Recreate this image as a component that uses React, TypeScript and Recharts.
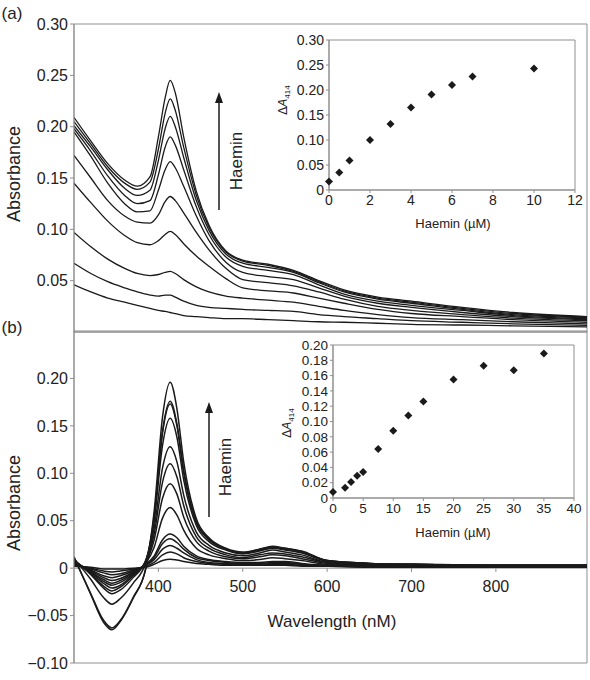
import React from 'react'
import {
  LineChart, Line, XAxis, YAxis, ReferenceArea, ReferenceLine, ReferenceDot,
  ScatterChart, Scatter,
} from 'recharts'

// (a) absorption spectra, wavelength (nm) and absorbance for each haemin addition
const WL_A = [300, 320, 340, 360, 375, 390, 400, 408, 414, 420, 430, 445, 460, 480, 500, 530, 560, 590, 620, 660, 700, 760, 820, 908]
const A1 = [0.046, 0.039, 0.033, 0.029, 0.026, 0.023, 0.021, 0.020, 0.019, 0.018, 0.016, 0.015, 0.014, 0.013, 0.013, 0.012, 0.011, 0.010, 0.0095, 0.0085, 0.0075, 0.0068, 0.006, 0.005]
const A2 = [0.067, 0.057, 0.049, 0.043, 0.039, 0.036, 0.035, 0.036, 0.036, 0.034, 0.030, 0.026, 0.024, 0.023, 0.022, 0.021, 0.020, 0.017, 0.015, 0.013, 0.011, 0.0095, 0.008, 0.0065]
const A3 = [0.097, 0.083, 0.071, 0.062, 0.057, 0.055, 0.056, 0.058, 0.059, 0.057, 0.051, 0.044, 0.039, 0.035, 0.033, 0.031, 0.029, 0.025, 0.021, 0.017, 0.014, 0.012, 0.010, 0.008]
const A4 = [0.145, 0.126, 0.108, 0.094, 0.087, 0.085, 0.089, 0.095, 0.098, 0.095, 0.086, 0.074, 0.064, 0.052, 0.043, 0.040, 0.038, 0.033, 0.028, 0.022, 0.018, 0.015, 0.012, 0.0095]
const A5 = [0.172, 0.150, 0.128, 0.113, 0.107, 0.106, 0.114, 0.127, 0.132, 0.128, 0.116, 0.097, 0.080, 0.062, 0.051, 0.048, 0.045, 0.039, 0.032, 0.025, 0.021, 0.017, 0.0135, 0.011]
const A6 = [0.195, 0.171, 0.145, 0.125, 0.117, 0.118, 0.138, 0.158, 0.166, 0.160, 0.142, 0.113, 0.089, 0.068, 0.058, 0.054, 0.051, 0.043, 0.035, 0.028, 0.024, 0.019, 0.015, 0.012]
const A7 = [0.198, 0.176, 0.152, 0.133, 0.125, 0.128, 0.153, 0.180, 0.190, 0.182, 0.158, 0.122, 0.095, 0.073, 0.064, 0.060, 0.056, 0.046, 0.037, 0.030, 0.026, 0.021, 0.016, 0.013]
const A8 = [0.201, 0.180, 0.158, 0.140, 0.133, 0.138, 0.167, 0.198, 0.210, 0.200, 0.170, 0.128, 0.099, 0.076, 0.067, 0.063, 0.058, 0.048, 0.039, 0.032, 0.028, 0.022, 0.017, 0.014]
const A9 = [0.205, 0.183, 0.161, 0.145, 0.139, 0.146, 0.178, 0.213, 0.227, 0.216, 0.180, 0.133, 0.102, 0.078, 0.069, 0.065, 0.059, 0.049, 0.040, 0.033, 0.029, 0.023, 0.018, 0.0145]
const A10 = [0.209, 0.186, 0.164, 0.148, 0.142, 0.151, 0.190, 0.228, 0.245, 0.233, 0.190, 0.137, 0.104, 0.079, 0.070, 0.066, 0.060, 0.050, 0.041, 0.034, 0.030, 0.024, 0.019, 0.015]
const SPECTRA_A = [A1, A2, A3, A4, A5, A6, A7, A8, A9, A10]

// (b) difference spectra
const WL_B = [300, 320, 335, 345, 355, 370, 385, 395, 405, 414, 422, 430, 445, 460, 480, 500, 520, 535, 550, 570, 600, 650, 700, 800, 908]
const B1 = [0.002, 0.001, -0.001, -0.001, -0.001, 0.000, 0.001, 0.004, 0.008, 0.0095, 0.0085, 0.007, 0.005, 0.004, 0.003, 0.003, 0.003, 0.003, 0.003, 0.002, 0.002, 0.001, 0.001, 0.001, 0.001]
const B2 = [0.003, 0.000, -0.003, -0.004, -0.003, -0.001, 0.002, 0.006, 0.014, 0.017, 0.015, 0.011, 0.007, 0.005, 0.004, 0.003, 0.003, 0.004, 0.004, 0.003, 0.002, 0.001, 0.001, 0.001, 0.001]
const B3 = [0.004, -0.001, -0.005, -0.007, -0.006, -0.002, 0.003, 0.009, 0.020, 0.024, 0.021, 0.016, 0.009, 0.006, 0.005, 0.004, 0.004, 0.005, 0.005, 0.004, 0.002, 0.002, 0.001, 0.001, 0.001]
const B4 = [0.005, -0.002, -0.008, -0.010, -0.008, -0.003, 0.003, 0.011, 0.026, 0.031, 0.027, 0.020, 0.011, 0.008, 0.006, 0.005, 0.005, 0.006, 0.006, 0.004, 0.003, 0.002, 0.002, 0.001, 0.001]
const B5 = [0.006, -0.003, -0.010, -0.013, -0.011, -0.004, 0.004, 0.013, 0.030, 0.036, 0.032, 0.023, 0.013, 0.009, 0.007, 0.006, 0.006, 0.007, 0.007, 0.005, 0.003, 0.002, 0.002, 0.002, 0.002]
const B6 = [0.007, -0.004, -0.012, -0.016, -0.013, -0.005, 0.005, 0.022, 0.053, 0.064, 0.056, 0.040, 0.021, 0.014, 0.010, 0.008, 0.009, 0.011, 0.010, 0.008, 0.004, 0.003, 0.002, 0.002, 0.002]
const B7 = [0.007, -0.004, -0.014, -0.018, -0.015, -0.006, 0.006, 0.030, 0.074, 0.089, 0.078, 0.054, 0.028, 0.018, 0.012, 0.010, 0.012, 0.014, 0.013, 0.010, 0.005, 0.003, 0.003, 0.002, 0.002]
const B8 = [0.008, -0.005, -0.016, -0.021, -0.018, -0.007, 0.007, 0.036, 0.091, 0.110, 0.096, 0.066, 0.033, 0.021, 0.014, 0.011, 0.014, 0.016, 0.015, 0.012, 0.006, 0.004, 0.003, 0.002, 0.002]
const B9 = [0.008, -0.006, -0.019, -0.024, -0.020, -0.008, 0.008, 0.042, 0.106, 0.128, 0.112, 0.077, 0.038, 0.024, 0.016, 0.013, 0.016, 0.019, 0.017, 0.014, 0.006, 0.004, 0.003, 0.003, 0.003]
const B10 = [0.009, -0.007, -0.021, -0.027, -0.023, -0.010, 0.008, 0.050, 0.130, 0.158, 0.138, 0.093, 0.045, 0.028, 0.019, 0.015, 0.018, 0.021, 0.019, 0.016, 0.007, 0.004, 0.004, 0.003, 0.003]
const B11 = [0.010, -0.012, -0.031, -0.038, -0.032, -0.016, 0.006, 0.055, 0.143, 0.173, 0.150, 0.101, 0.048, 0.030, 0.020, 0.016, 0.019, 0.022, 0.020, 0.017, 0.008, 0.005, 0.004, 0.003, 0.003]
const B12 = [0.011, -0.027, -0.055, -0.063, -0.055, -0.031, -0.001, 0.053, 0.145, 0.176, 0.152, 0.103, 0.049, 0.031, 0.020, 0.016, 0.020, 0.022, 0.021, 0.017, 0.008, 0.005, 0.004, 0.003, 0.003]
const B13 = [0.012, -0.028, -0.057, -0.065, -0.056, -0.032, 0.000, 0.060, 0.160, 0.196, 0.168, 0.112, 0.052, 0.032, 0.021, 0.017, 0.020, 0.023, 0.021, 0.018, 0.008, 0.005, 0.004, 0.003, 0.003]
const SPECTRA_B = [B1, B2, B3, B4, B5, B6, B7, B8, B9, B10, B11, B12, B13]

// insets: delta A414 against haemin (uM)
const HAEMIN_A = [0, 0.5, 1, 2, 3, 4, 5, 6, 7, 10]
const DA414_A = [0.017, 0.035, 0.059, 0.100, 0.132, 0.165, 0.191, 0.210, 0.227, 0.243]
const HAEMIN_B = [0, 2, 3, 4, 5, 7.5, 10, 12.5, 15, 20, 25, 30, 35]
const DA414_B = [0.008, 0.0135, 0.021, 0.029, 0.034, 0.064, 0.088, 0.108, 0.126, 0.155, 0.173, 0.167, 0.189]

const Y_TICKS_A = [0.05, 0.1, 0.15, 0.2, 0.25, 0.3]
const X_TICKS_A = [300, 450, 600, 750, 900]
const Y_TICKS_B = [-0.1, -0.05, 0, 0.05, 0.1, 0.15, 0.2]
const X_TICKS_B = [400, 500, 600, 700, 800]
const INSET_A_X = [0, 2, 4, 6, 8, 10, 12]
const INSET_A_Y = [0, 0.05, 0.1, 0.15, 0.2, 0.25, 0.3]
const INSET_B_X = [0, 5, 10, 15, 20, 25, 30, 35, 40]
const INSET_B_Y = [0, 0.02, 0.04, 0.06, 0.08, 0.1, 0.12, 0.14, 0.16, 0.18, 0.2]

const FONT = '"Liberation Sans", Arial, sans-serif'
const AXIS = '#8f8f8f'
const INK = '#1a1a1a'
const TXT = '#222'

const toRows = (wl: number[], series: number[][]) =>
  wl.map((w, i) => {
    const r: Record<string, number> = { wl: w }
    series.forEach((s, k) => { r['s' + k] = s[i] })
    return r
  })

const rowsA = toRows(WL_A, SPECTRA_A)
const rowsB = toRows(WL_B, SPECTRA_B)
const ptsA = HAEMIN_A.map((x, i) => ({ x, y: DA414_A[i] }))
const ptsB = HAEMIN_B.map((x, i) => ({ x, y: DA414_B[i] }))

const fmt2 = (v: number) => (v === 0 ? '0' : v.toFixed(2).replace('-', '\u2212'))

const Diamond = (p: any) => {
  const { cx, cy } = p
  const h = 4
  return <polygon points={`${cx},${cy - h} ${cx + h},${cy} ${cx},${cy + h} ${cx - h},${cy}`} fill={INK} />
}

const rot = (left: number, top: number, size: number): React.CSSProperties => ({
  position: 'absolute', left, top, fontSize: size, fontWeight: 400, color: TXT, whiteSpace: 'nowrap',
  transform: 'translate(-50%, -50%) rotate(-90deg)',
})
const plain = (left: number, top: number, size: number): React.CSSProperties => ({
  position: 'absolute', left, top, fontSize: size, fontWeight: 400, color: TXT, whiteSpace: 'nowrap',
  transform: 'translate(-50%, -50%)',
})

function DeltaLabel() {
  return <span>&Delta;<i>A</i><sub style={{ fontSize: 8 }}>414</sub></span>
}

export default function App() {
  const tickMain = { fontSize: 16, fill: TXT }
  const tickInset = { fontSize: 14, fill: TXT }
  return (
    <div style={{ position: 'absolute', left: 0, top: 0, width: 590, height: 680, background: '#fff', fontFamily: FONT }}>
      {/* panel (a) */}
      <div style={{ position: 'absolute', left: 0, top: 0 }}>
        <LineChart width={590} height={345} data={rowsA} margin={{ top: 24, right: 3, bottom: 8, left: 0 }}>
          <ReferenceArea x1={300} x2={908} y1={0} y2={0.3} fill="none" stroke={AXIS} />
          <XAxis dataKey="wl" type="number" domain={[300, 908]} ticks={X_TICKS_A} tick={false} height={5}
            axisLine={{ stroke: AXIS }} tickLine={{ stroke: AXIS }} tickSize={4} allowDataOverflow />
          <YAxis type="number" domain={[0, 0.3]} ticks={Y_TICKS_A} interval={0} width={74} tickFormatter={fmt2}
            tick={tickMain} axisLine={{ stroke: AXIS }} tickLine={{ stroke: AXIS }} tickSize={4} />
          {SPECTRA_A.map((_, k) => (
            <Line key={k} dataKey={'s' + k} type="monotone" stroke={INK} strokeWidth={1.3} dot={false} isAnimationActive={false} />
          ))}
        </LineChart>
      </div>

      {/* panel (b) */}
      <div style={{ position: 'absolute', left: 0, top: 300 }}>
        <LineChart width={590} height={380} data={rowsB} margin={{ top: 31, right: 3, bottom: 17, left: 0 }}>
          <ReferenceArea x1={300} x2={908} y1={-0.1} y2={0.25} fill="none" stroke={AXIS} />
          <XAxis dataKey="wl" type="number" domain={[300, 908]} hide allowDataOverflow />
          <YAxis type="number" domain={[-0.1, 0.25]} ticks={Y_TICKS_B} interval={0} width={74} tickFormatter={fmt2}
            tick={tickMain} axisLine={{ stroke: AXIS }} tickLine={{ stroke: AXIS }} tickSize={4} />
          <ReferenceLine y={0} stroke={AXIS} />
          {X_TICKS_B.map((t) => (
            <ReferenceLine key={'t' + t} segment={[{ x: t, y: 0 }, { x: t, y: -0.004 }]} stroke={AXIS} />
          ))}
          {SPECTRA_B.map((_, k) => (
            <Line key={k} dataKey={'s' + k} type="monotone" stroke={INK} strokeWidth={1.5} dot={false} isAnimationActive={false} />
          ))}
          {X_TICKS_B.map((t) => (
            <ReferenceDot key={'l' + t} x={t} y={0} r={0} stroke="none" fill="none"
              label={{ value: String(t), position: 'bottom', offset: 12, fontSize: 16, fill: TXT }} />
          ))}
        </LineChart>
      </div>

      {/* inset (a) */}
      <div style={{ position: 'absolute', left: 280, top: 30 }}>
        <ScatterChart width={310} height={205} margin={{ top: 10, right: 15, bottom: 5, left: 0 }}>
          <ReferenceArea x1={0} x2={12} y1={0} y2={0.3} fill="none" stroke={AXIS} />
          <XAxis dataKey="x" type="number" domain={[0, 12]} ticks={INSET_A_X} interval={0} height={40}
            tick={tickInset} axisLine={{ stroke: AXIS }} tickLine={{ stroke: AXIS }} tickSize={3} />
          <YAxis dataKey="y" type="number" domain={[0, 0.3]} ticks={INSET_A_Y} interval={0} width={49} tickFormatter={fmt2}
            tick={tickInset} axisLine={{ stroke: AXIS }} tickLine={{ stroke: AXIS }} tickSize={3} />
          <Scatter data={ptsA} shape={Diamond} isAnimationActive={false} />
        </ScatterChart>
      </div>

      {/* inset (b) */}
      <div style={{ position: 'absolute', left: 280, top: 335 }}>
        <ScatterChart width={310} height={198} margin={{ top: 10, right: 16, bottom: 5, left: 0 }}>
          <ReferenceArea x1={0} x2={40} y1={0} y2={0.2} fill="none" stroke={AXIS} />
          <XAxis dataKey="x" type="number" domain={[0, 40]} ticks={INSET_B_X} interval={0} height={30}
            tick={{ fontSize: 13.5, fill: TXT }} axisLine={{ stroke: AXIS }} tickLine={{ stroke: AXIS }} tickSize={3} />
          <YAxis dataKey="y" type="number" domain={[0, 0.2]} ticks={INSET_B_Y} interval={0} width={53} tickFormatter={fmt2}
            tick={{ fontSize: 13.5, fill: TXT }} axisLine={{ stroke: AXIS }} tickLine={{ stroke: AXIS }} tickSize={3} />
          <Scatter data={ptsB} shape={Diamond} isAnimationActive={false} />
        </ScatterChart>
      </div>

      {/* arrows */}
      <svg width={590} height={680} style={{ position: 'absolute', left: 0, top: 0, pointerEvents: 'none' }}>
        <line x1={219} y1={210} x2={219} y2={100} stroke={INK} strokeWidth={1.5} />
        <polygon points="219,92 215,103 223,103" fill={INK} />
        <line x1={209} y1={517} x2={209} y2={410} stroke={INK} strokeWidth={1.5} />
        <polygon points="209,402 205,413 213,413" fill={INK} />
      </svg>

      {/* text */}
      <div style={plain(12, 14, 17)}>(a)</div>
      <div style={plain(12, 328, 17)}>(b)</div>
      <div style={rot(14, 174, 18)}>Absorbance</div>
      <div style={rot(14, 503, 18)}>Absorbance</div>
      <div style={rot(237, 161, 17)}>Haemin</div>
      <div style={rot(226, 467, 17)}>Haemin</div>
      <div style={plain(332, 622, 17)}>Wavelength (nM)</div>
      <div style={plain(453, 223, 13)}>Haemin (&micro;M)</div>
      <div style={plain(453, 532, 13)}>Haemin (&micro;M)</div>
      <div style={rot(284, 100, 12)}><DeltaLabel /></div>
      <div style={rot(288, 423, 12)}><DeltaLabel /></div>
    </div>
  )
}
